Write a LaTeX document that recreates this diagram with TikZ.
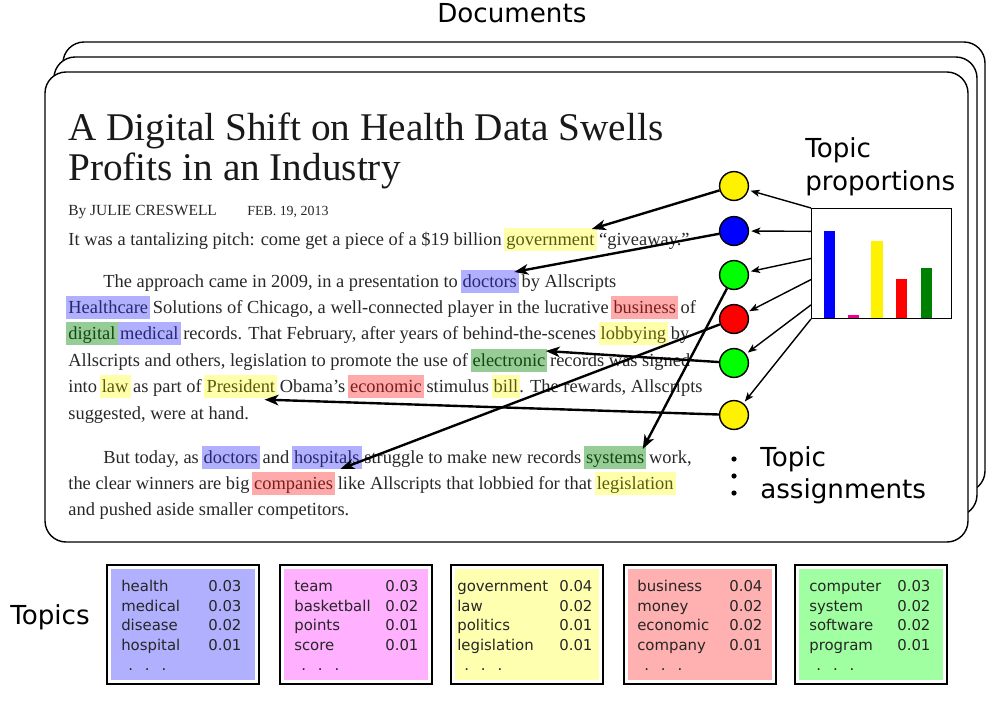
\documentclass[tikz,border=0pt]{standalone}
\usepackage{fontspec}
\setmainfont{Liberation Serif}
\newfontfamily\sansf{DejaVu Sans}
\usetikzlibrary{arrows.meta,calc}
\definecolor{txt}{RGB}{40,40,40}
\definecolor{hlblue}{RGB}{176,176,255}
\definecolor{hlgreen}{RGB}{150,205,150}
\definecolor{hlred}{RGB}{255,170,170}
\definecolor{hlyellow}{RGB}{255,255,170}
\definecolor{wblue}{RGB}{40,40,110}
\definecolor{wgreen}{RGB}{20,70,20}
\definecolor{wred}{RGB}{120,30,30}
\definecolor{wyellow}{RGB}{90,90,20}
\definecolor{tblue}{RGB}{176,176,255}
\definecolor{tpink}{RGB}{255,176,255}
\definecolor{tyellow}{RGB}{255,255,176}
\definecolor{tred}{RGB}{255,176,176}
\definecolor{tgreen}{RGB}{160,255,160}
\definecolor{bgreen}{RGB}{0,128,0}
\newcommand\bodysize{\fontsize{13.1}{15}\selectfont}
\newcommand\bigsans{\sansf\fontsize{18.6}{22}\selectfont}
\newcommand\topicsize{\sansf\fontsize{10.6}{14.05}\selectfont}
\newcommand\tdots{\hspace*{5pt}.\hspace{8.5pt}.\hspace{8.5pt}.}
\begin{document}
\begin{tikzpicture}[x=0.025cm,y=-0.025cm,
  w/.style={inner xsep=1.5pt, inner ysep=0.3pt, text height=11.6pt, text depth=4.2pt, anchor=base west, font=\bodysize, text=txt},
  hb/.style={w, fill=hlblue, text=wblue},
  hg/.style={w, fill=hlgreen, text=wgreen},
  hr/.style={w, fill=hlred, text=wred},
  hy/.style={w, fill=hlyellow, text=wyellow},
  doc/.style={draw, fill=white, line width=1pt, rounded corners=15pt},
  big/.style={font=\bigsans, inner sep=0pt, anchor=base west},
  tw/.style={anchor=north west, inner sep=0pt, align=left, font=\topicsize, text=black!85},
  circ/.style={circle, draw, line width=1pt, minimum size=20.5pt, inner sep=0pt},
  bigarrow/.style={-{Stealth[length=10pt,width=7.5pt,inset=2.8pt]}, line width=1.7pt},
  smallarrow/.style={-{Stealth[length=6.5pt,width=5pt,inset=1.6pt]}, line width=1pt, shorten >=1.5pt},
  outerbox/.style={draw, fill=white, line width=0.9pt},
]
\useasboundingbox (0,0) rectangle (1000,706);

% Documents stack
\draw[doc] (63,42) rectangle (985,492);
\draw[doc] (54,57) rectangle (977,516);
\draw[doc] (45,72) rectangle (968,542);
\node[big] (docs) at (437,22) {Documents};

% Title and byline
\node[anchor=base west, inner sep=0pt, font=\fontsize{27.9}{30}\selectfont, text=black!90] (title1) at (68,140) {A Digital Shift on Health Data Swells};
\node[anchor=base west, inner sep=0pt, font=\fontsize{27.9}{30}\selectfont, text=black!90] (title2) at (68,180) {Profits in an Industry};
\node[anchor=base west, inner sep=0pt, font=\fontsize{11}{12}\selectfont, text=txt] (by) at (68,215) {By JULIE CRESWELL};
\node[anchor=base west, inner sep=0pt, font=\fontsize{9.9}{12}\selectfont, text=txt] (date) at (247,215) {FEB. 19, 2013};

% Line 1
\node[w] (l1a) at (66,245) {It was a tantalizing pitch: come get a piece of a \$19 billion};
\node[hy] (gov) at (l1a.base east) {government};
\node[w] (l1b) at (gov.base east) {“giveaway.”};
% Line 2
\node[w] (l2a) at (101,287) {The approach came in 2009, in a presentation to};
\node[hb] (doc1) at (l2a.base east) {doctors};
\node[w] (l2b) at (doc1.base east) {by Allscripts};
% Line 3
\node[hb] (health) at (66,313) {Healthcare};
\node[w] (l3a) at (health.base east) {Solutions of Chicago, a well-connected player in the lucrative};
\node[hr] (bus) at (l3a.base east) {business};
\node[w] (l3b) at (bus.base east) {of};
% Line 4
\node[hg] (dig) at (66,339) {digital};
\node[hb] (med) at (dig.base east) {medical};
\node[w] (l4a) at (med.base east) {records. That February, after years of behind-the-scenes};
\node[hy] (lob) at (l4a.base east) {lobbying};
\node[w] (l4b) at (lob.base east) {by};
% Line 5
\node[w] (l5a) at (66,366) {Allscripts and others, legislation to promote the use of};
\node[hg] (elec) at (l5a.base east) {electronic};
\node[w] (l5b) at (elec.base east) {records was signed};
% Line 6
\node[w] (l6a) at (66,392) {into};
\node[hy] (law) at (l6a.base east) {law};
\node[w] (l6b) at (law.base east) {as part of};
\node[hy] (pres) at (l6b.base east) {President};
\node[w] (l6c) at (pres.base east) {Obama’s};
\node[hr] (econ) at (l6c.base east) {economic};
\node[w] (l6d) at (econ.base east) {stimulus};
\node[hy] (bill) at (l6d.base east) {bill};
\node[w] (l6e) at ([xshift=-2.6pt]bill.base east) {. The rewards, Allscripts};
% Line 7
\node[w] (l7a) at (66,419) {suggested, were at hand.};
% Line 8
\node[w] (l8a) at (101,463) {But today, as};
\node[hb] (doc2) at (l8a.base east) {doctors};
\node[w] (l8b) at (doc2.base east) {and};
\node[hb] (hosp) at (l8b.base east) {hospitals};
\node[w] (l8c) at (hosp.base east) {struggle to make new records};
\node[hg] (sys) at (l8c.base east) {systems};
\node[w] (l8d) at (sys.base east) {work,};
% Line 9
\node[w] (l9a) at (66,489) {the clear winners are big};
\node[hr] (comp) at (l9a.base east) {companies};
\node[w] (l9b) at (comp.base east) {like Allscripts that lobbied for that};
\node[hy] (legis) at (l9b.base east) {legislation};
% Line 10
\node[w] (l10a) at (66,515) {and pushed aside smaller competitors.};

% Topic proportions chart
\fill[blue] (824,231) rectangle (835,318);
\fill[magenta] (848,315) rectangle (859,318);
\fill[yellow] (871,241) rectangle (883,318);
\fill[red] (896,279) rectangle (907,318);
\fill[bgreen] (921,268) rectangle (932,318);
\node[draw, line width=0.9pt, inner sep=0pt, minimum width=99.2pt, minimum height=78pt, anchor=north west] (chart) at (811,208) {};
\node[big] (tp1) at (805,157) {Topic};
\node[big] (tp2) at (805,190) {proportions};

% Topic assignment circles
\node[circ, fill=yellow] (c1) at (734,186) {};
\node[circ, fill=blue] (c2) at (734,231) {};
\node[circ, fill=green] (c3) at (734,275) {};
\node[circ, fill=red] (c4) at (734,319) {};
\node[circ, fill=green] (c5) at (734,363) {};
\node[circ, fill=yellow] (c6) at (734,415) {};

\draw[smallarrow] (chart.north west) -- (c1);
\draw[smallarrow] ($(chart.north west)!0.21!(chart.south west)$) -- (c2);
\draw[smallarrow] ($(chart.north west)!0.455!(chart.south west)$) -- (c3);
\draw[smallarrow] ($(chart.north west)!0.645!(chart.south west)$) -- (c4);
\draw[smallarrow] ($(chart.north west)!0.873!(chart.south west)$) -- (c5);
\draw[smallarrow] (chart.south west) -- (c6);

% Circles to words
\draw[bigarrow] (c1) -- ($(gov.north east)+(-5,1)$);
\draw[bigarrow] (c2) -- ($(doc1.north east)+(-5,2)$);
\draw[bigarrow] (c3) -- ($(sys.north east)+(-4,3)$);
\draw[bigarrow] (c4) -- ($(comp.north east)+(5,-3)$);
\draw[bigarrow] (c5) -- ($(elec.north east)+(-2,2)$);
\draw[bigarrow] (c6) -- ($(pres.south east)+(-13,1)$);

\fill (734,459) circle (2.6);
\fill (734,476) circle (2.6);
\fill (734,493) circle (2.6);
\node[big] (ta1) at (760,466) {Topic};
\node[big] (ta2) at (760,498) {assignments};

% Topics
\node[big] (topics) at (10,624) {Topics};
\draw[outerbox] (107,565) rectangle (259,684); \fill[tblue] (111,569) rectangle (255,680);
\draw[outerbox] (280,565) rectangle (432,684); \fill[tpink] (284,569) rectangle (428,680);
\draw[outerbox] (451,565) rectangle (603,684); \fill[tyellow] (455,569) rectangle (599,680);
\draw[outerbox] (624,565) rectangle (776,684); \fill[tred] (628,569) rectangle (772,680);
\draw[outerbox] (795,565) rectangle (947,684); \fill[tgreen] (799,569) rectangle (943,680);

\node[tw] (t1w) at (121,577) {\rule{0pt}{10pt}health\\medical\\disease\\hospital\\\tdots};
\node[tw] (t1n) at (208,577) {\rule{0pt}{10pt}0.03\\0.03\\0.02\\0.01};
\node[tw] (t2w) at (294,577) {\rule{0pt}{10pt}team\\basketball\\points\\score\\\tdots};
\node[tw] (t2n) at (385,577) {\rule{0pt}{10pt}0.03\\0.02\\0.01\\0.01};
\node[tw] (t3w) at (457,577) {\rule{0pt}{10pt}government\\law\\politics\\legislation\\\tdots};
\node[tw] (t3n) at (559,577) {\rule{0pt}{10pt}0.04\\0.02\\0.01\\0.01};
\node[tw] (t4w) at (637,577) {\rule{0pt}{10pt}business\\money\\economic\\company\\\tdots};
\node[tw] (t4n) at (729,577) {\rule{0pt}{10pt}0.04\\0.02\\0.02\\0.01};
\node[tw] (t5w) at (809,577) {\rule{0pt}{10pt}computer\\system\\software\\program\\\tdots};
\node[tw] (t5n) at (897,577) {\rule{0pt}{10pt}0.03\\0.02\\0.02\\0.01};
\end{tikzpicture}
\end{document}
